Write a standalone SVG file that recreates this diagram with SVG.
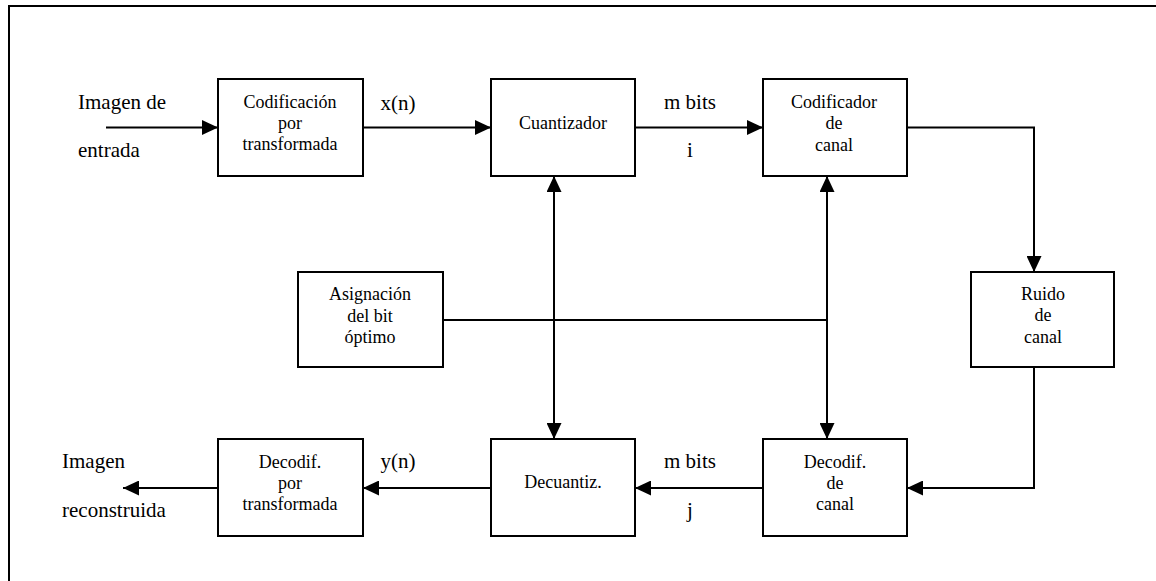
<svg xmlns="http://www.w3.org/2000/svg" width="1156" height="581" viewBox="0 0 1156 581">
<style>
.box{fill:#fff;stroke:#000;stroke-width:2}
.t{font-size:18px;text-anchor:middle;fill:#000}
.l{font-size:21px;fill:#000}
.c{fill:none;stroke:#000;stroke-width:2}
</style>
<defs>
<marker id="ah" markerUnits="userSpaceOnUse" markerWidth="16" markerHeight="15" refX="16" refY="7.5" orient="auto-start-reverse" viewBox="0 0 16 15">
<path d="M0,0 L16,7.5 L0,15 z" fill="#000"/>
</marker>
</defs>
<rect width="1156" height="581" fill="#fff"/>
<path d="M9,590 L9,6 L1160,6" fill="none" stroke="#000" stroke-width="2"/>

<g id="connectors">
<line class="c" x1="106" y1="127.5" x2="218" y2="127.5" marker-end="url(#ah)"/>
<line class="c" x1="363" y1="127.5" x2="491" y2="127.5" marker-end="url(#ah)"/>
<line class="c" x1="635" y1="127.5" x2="763" y2="127.5" marker-end="url(#ah)"/>
<polyline class="c" points="907,127.5 1034,127.5 1034,272" marker-end="url(#ah)"/>
<polyline class="c" points="1034,367 1034,488 907,488" marker-end="url(#ah)"/>
<line class="c" x1="763" y1="488" x2="635" y2="488" marker-end="url(#ah)"/>
<line class="c" x1="491" y1="488" x2="363" y2="488" marker-end="url(#ah)"/>
<line class="c" x1="218" y1="488" x2="123" y2="488" marker-end="url(#ah)"/>
<line class="c" x1="554" y1="176" x2="554" y2="439" marker-start="url(#ah)" marker-end="url(#ah)"/>
<line class="c" x1="827" y1="176" x2="827" y2="439" marker-start="url(#ah)" marker-end="url(#ah)"/>
<line class="c" x1="443" y1="320" x2="827" y2="320"/>
</g>

<g font-family="Liberation Serif, serif">
<g id="labels">
<text class="l" x="78" y="109">Imagen de</text>
<text class="l" x="78" y="157">entrada</text>
<text class="l" x="398" y="110" text-anchor="middle">x(n)</text>
<text class="l" x="690" y="109" text-anchor="middle">m bits</text>
<text class="l" x="690" y="157" text-anchor="middle">i</text>
<text class="l" x="62" y="468">Imagen</text>
<text class="l" x="62" y="517">reconstruida</text>
<text class="l" x="398" y="468" text-anchor="middle">y(n)</text>
<text class="l" x="690" y="468" text-anchor="middle">m bits</text>
<text class="l" x="690" y="517" text-anchor="middle">j</text>
</g>

<g id="cod-transf">
<rect class="box" x="218" y="79" width="145" height="97"/>
<text class="t" x="290" y="108">Codificación</text>
<text class="t" x="290" y="129">por</text>
<text class="t" x="290" y="150">transformada</text>
</g>
<g id="cuantizador">
<rect class="box" x="491" y="79" width="144" height="97"/>
<text class="t" x="563" y="129">Cuantizador</text>
</g>
<g id="cod-canal">
<rect class="box" x="763" y="79" width="144" height="97"/>
<text class="t" x="834" y="108">Codificador</text>
<text class="t" x="834" y="129">de</text>
<text class="t" x="834" y="151">canal</text>
</g>
<g id="asignacion">
<rect class="box" x="298" y="272" width="145" height="95"/>
<text class="t" x="370" y="300">Asignación</text>
<text class="t" x="370" y="322">del bit</text>
<text class="t" x="370" y="343">óptimo</text>
</g>
<g id="ruido">
<rect class="box" x="971" y="272" width="143" height="95"/>
<text class="t" x="1043" y="300">Ruido</text>
<text class="t" x="1043" y="321">de</text>
<text class="t" x="1043" y="343">canal</text>
</g>
<g id="decod-canal">
<rect class="box" x="763" y="439" width="144" height="97"/>
<text class="t" x="835" y="468">Decodif.</text>
<text class="t" x="835" y="489">de</text>
<text class="t" x="835" y="510">canal</text>
</g>
<g id="decuantiz">
<rect class="box" x="491" y="439" width="144" height="97"/>
<text class="t" x="563" y="488">Decuantiz.</text>
</g>
<g id="decod-transf">
<rect class="box" x="218" y="439" width="145" height="97"/>
<text class="t" x="290" y="468">Decodif.</text>
<text class="t" x="290" y="489">por</text>
<text class="t" x="290" y="510">transformada</text>
</g>
</g>
</svg>
